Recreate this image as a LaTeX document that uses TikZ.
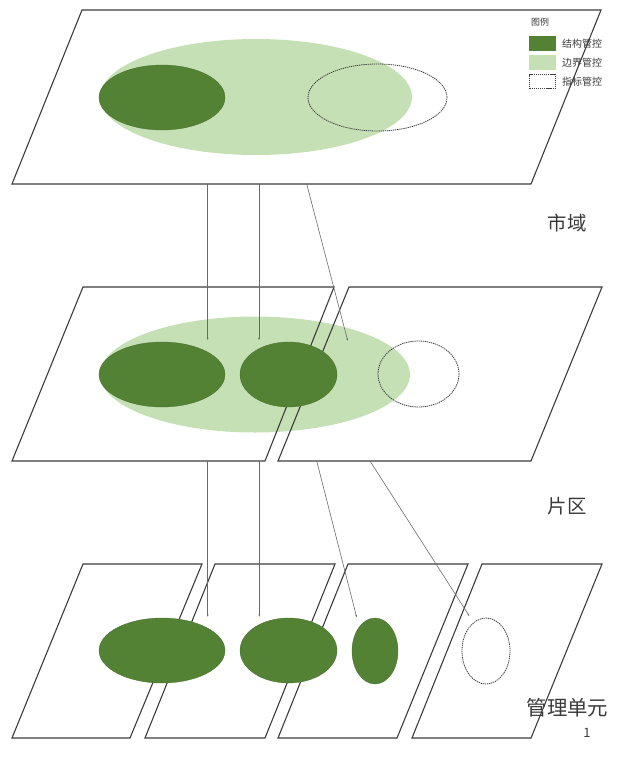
\documentclass[tikz,border=0pt]{standalone}
\usepackage{fontspec}
\setmainfont{Noto Sans CJK SC}
\usetikzlibrary{shapes.geometric,arrows.meta}
\definecolor{darkg}{HTML}{548235}
\definecolor{lightg}{HTML}{C5E0B4}
\definecolor{edgec}{HTML}{3C3C3C}
\definecolor{linkc}{HTML}{6A6A6A}
\definecolor{txtc}{HTML}{3A3A3A}
\tikzset{
  plane/.style={draw=edgec, line width=1.1pt, line join=miter},
  darkell/.style={ellipse, fill=darkg, draw=darkg!85!black, line width=0.3pt, inner sep=0pt},
  lightell/.style={ellipse, fill=lightg, inner sep=0pt},
  dashell/.style={ellipse, draw=edgec, line width=0.8pt, dash pattern=on 1.3pt off 0.8pt, inner sep=0pt},
  link/.style={draw=linkc, line width=0.6pt, -{Stealth[length=2.4pt,width=1.8pt]}},
  lvl/.style={text=txtc, font=\fontsize{19.5}{20}\selectfont, inner sep=0pt},
  leg/.style={text=txtc, font=\fontsize{10}{10}\selectfont, inner sep=0pt, anchor=west},
}
\begin{document}
\begin{tikzpicture}[x=1bp,y=-1bp]
\useasboundingbox (0,0) rectangle (623,760);
% ---------- top layer (市域) ----------
\node[lightell, minimum width=312bp, minimum height=116bp] (tl) at (256,97) {};
\node[darkell, minimum width=126bp, minimum height=65bp] (td) at (162,97.5) {};
\node[dashell, minimum width=139bp, minimum height=67bp] (tx) at (377.5,97.5) {};
% legend
\node[text=txtc, font=\fontsize{9}{9}\selectfont, inner sep=0pt] (legt) at (540,22.5) {图例};
\node[fill=darkg, minimum width=27bp, minimum height=15bp, inner sep=0pt] (lb1) at (542.5,43.5) {};
\node[fill=lightg, minimum width=27bp, minimum height=15bp, inner sep=0pt] (lb2) at (542.5,62.5) {};
\node[draw=edgec, line width=0.7pt, dash pattern=on 1.3pt off 0.8pt, minimum width=26bp, minimum height=14bp, inner sep=0pt] (lb3) at (542.5,81.5) {};
\node[leg] (ll1) at (562,43.5) {结构管控};
\node[leg] (ll2) at (562,62.5) {边界管控};
\node[leg] (ll3) at (562,81.5) {指标管控};
\draw[plane] (82,10) -- (601,10) -- (531,184) -- (12,184) -- cycle;
\node[lvl] (lab1) at (567,223) {市域};
% ---------- middle layer (片区) ----------
\node[lightell, minimum width=310bp, minimum height=116bp] (ml) at (255,374.5) {};
\draw[plane] (83,287) -- (334,287) -- (265,461) -- (12,461) -- cycle;
\draw[plane] (349,287) -- (602,287) -- (531,461) -- (278,461) -- cycle;
\node[darkell, minimum width=126bp, minimum height=65bp] (md1) at (162,374.5) {};
\node[darkell, minimum width=97bp, minimum height=65bp] (md2) at (288.5,374.5) {};
\node[dashell, minimum width=81bp, minimum height=66bp] (mx) at (418.5,374) {};
\node[lvl] (lab2) at (567,506) {片区};
% ---------- bottom layer (管理单元) ----------
\draw[plane] (83,564) -- (202,564) -- (130,738) -- (12,738) -- cycle;
\draw[plane] (215,564) -- (335,564) -- (265,738) -- (145,738) -- cycle;
\draw[plane] (348,564) -- (468,564) -- (397,738) -- (278,738) -- cycle;
\draw[plane] (482,564) -- (602,564) -- (531,738) -- (412,738) -- cycle;
\node[darkell, minimum width=126bp, minimum height=65bp] (bd1) at (162,650.5) {};
\node[darkell, minimum width=97bp, minimum height=65bp] (bd2) at (288.5,650.5) {};
\node[darkell, minimum width=46bp, minimum height=66bp] (bd3) at (375,651) {};
\node[dashell, minimum width=48bp, minimum height=66bp] (bx) at (486,651) {};
\node[text=txtc, font=\fontsize{20.5}{21}\selectfont, inner sep=0pt] (lab3) at (567.5,708) {管理单元};
\node[text=txtc, font=\fontsize{13}{13}\selectfont, inner sep=0pt] (pg) at (587,733) {1};
% ---------- connectors ----------
\coordinate (s1) at (207.7,184);
\coordinate (e1) at (207.7,340);
\coordinate (s2) at (259,184);
\coordinate (e2) at (259,340);
\coordinate (s3) at (306.7,184);
\coordinate (e3) at (347.7,340.7);
\coordinate (s4) at (207.7,461);
\coordinate (e4) at (207.7,616.7);
\coordinate (s5) at (259.3,461);
\coordinate (e5) at (259.3,616.7);
\coordinate (s6) at (316.7,461);
\coordinate (e6) at (356.7,617.3);
\coordinate (s7) at (370,461);
\coordinate (e7) at (469.3,616);
\draw[link] (s1) -- (e1);
\draw[link] (s2) -- (e2);
\draw[link] (s3) -- (e3);
\draw[link] (s4) -- (e4);
\draw[link] (s5) -- (e5);
\draw[link] (s6) -- (e6);
\draw[link] (s7) -- (e7);
\end{tikzpicture}
\end{document}
